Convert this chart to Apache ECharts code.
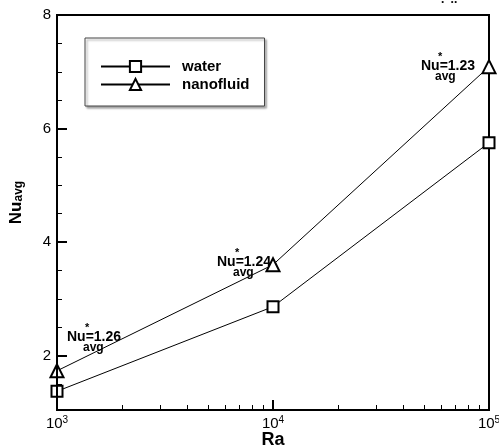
<!DOCTYPE html>
<html>
<head>
<meta charset="utf-8">
<script src="https://cdn.jsdelivr.net/npm/echarts@6/dist/echarts.min.js"></script>
<style>html,body{margin:0;padding:0;background:#fff}#c{width:499px;height:448px}</style>
</head>
<body>
<div id="c"></div>
<script>
var raValues = [1000, 10000, 100000];
var waterNu = [1.37, 2.86, 5.75];
var nanoNu = [1.73, 3.60, 7.09];
var yMajorTicks = [2, 4, 6, 8];
var yMinorTicks = [1.5, 2.5, 3, 3.5, 4.5, 5, 5.5, 6.5, 7, 7.5];
var xMinorTicks = [2000, 3000, 4000, 5000, 6000, 7000, 8000, 9000, 20000, 30000, 40000, 50000, 60000, 70000, 80000, 90000];
var ratioLabels = ['1.26', '1.24', '1.23'];

var F = '"Liberation Sans", Arial, sans-serif';
var chart = echarts.init(document.getElementById('c'), null, {renderer: 'canvas'});

function pairs(xs, ys) { return xs.map(function (x, i) { return [x, ys[i]]; }); }

var expo = {1000: '3', 10000: '4', 100000: '5'};

function annot(x, y, val, sx, ax) {
  return [
    {type: 'text', z: 100, left: x + sx, top: y - 16, style: {text: '*', font: 'bold 11px ' + F, fill: '#000'}},
    {type: 'text', z: 100, left: x, top: y - 8, style: {text: 'Nu=' + val, font: 'bold 14px ' + F, fill: '#000'}},
    {type: 'text', z: 100, left: x + ax, top: y + 4, style: {text: 'avg', font: 'bold 12px ' + F, fill: '#000'}}
  ];
}

var graphics = [].concat(
  annot(67, 338, ratioLabels[0], 18, 16),
  annot(217, 263, ratioLabels[1], 18, 16),
  annot(421, 67, ratioLabels[2], 17, 14),
  [
    {type: 'text', z: 100, left: 441, top: -6, style: {text: '.  ..', font: 'bold 12px "Noto Sans", sans-serif', fill: '#000'}},
    {type: 'text', z: 100, left: 456, top: -12, style: {text: 'ك', font: '16px "DejaVu Sans", sans-serif', fill: '#000'}}
  ]
);

var option = {
  animation: false,
  backgroundColor: '#fff',
  grid: {left: 57, right: 10, top: 15, bottom: 38, outerBoundsMode: 'none', containLabel: false,
    show: true, borderColor: '#000', borderWidth: 2, backgroundColor: 'transparent'},
  legend: {
    left: 85, top: 38, orient: 'vertical',
    itemWidth: 69, itemHeight: 14, itemGap: 3,
    padding: [21, 15, 14, 15],
    backgroundColor: '#fff', borderColor: '#444', borderWidth: 1,
    shadowColor: 'rgba(0,0,0,0.35)', shadowOffsetX: 2, shadowOffsetY: 2, shadowBlur: 2,
    textStyle: {fontFamily: F, fontSize: 15, fontWeight: 'bold', color: '#000', lineHeight: 15, padding: [0, 0, 0, 7]},
    data: ['water', 'nanofluid']
  },
  xAxis: [{
    type: 'log', logBase: 10, min: 1000, max: 100000,
    name: 'Ra', nameLocation: 'middle', nameGap: 21, nameMoveOverlap: false,
    nameTextStyle: {fontFamily: F, fontSize: 18, fontWeight: 'bold', color: '#000'},
    axisLine: {lineStyle: {color: '#000', width: 2}},
    axisTick: {show: true, inside: true, length: 10, lineStyle: {color: '#000', width: 2}},
    minorTick: {show: false},
    splitLine: {show: false},
    axisLabel: {
      margin: 5, color: '#000',
      formatter: function (v) { return '{b|10}{s|' + expo[Math.round(v)] + '}'; },
      rich: {
        b: {fontFamily: F, fontSize: 15, color: '#000'},
        s: {fontFamily: F, fontSize: 10, color: '#000', padding: [0, 0, 8, 0]}
      }
    },
    z: 10
  }, {
    type: 'log', logBase: 10, min: 1000, max: 100000, position: 'bottom',
    axisLine: {show: false},
    axisTick: {show: true, inside: true, length: 5, customValues: xMinorTicks, lineStyle: {color: '#000', width: 1}},
    axisLabel: {show: false},
    splitLine: {show: false},
    z: 10
  }],
  yAxis: [{
    type: 'value', min: 1.04, max: 8,
    name: '{a|Nu}{b|avg}', nameLocation: 'middle', nameGap: 32, nameRotate: 90, nameMoveOverlap: false,
    nameTextStyle: {
      padding: [0, 0, 0, 20],
      rich: {
        a: {fontFamily: F, fontSize: 17, fontWeight: 'bold', color: '#000'},
        b: {fontFamily: F, fontSize: 12, fontWeight: 'bold', color: '#000', padding: [6, 0, 0, 0]}
      }
    },
    axisLine: {lineStyle: {color: '#000', width: 2}},
    axisTick: {show: true, inside: true, length: 10, customValues: yMajorTicks, lineStyle: {color: '#000', width: 2}},
    axisLabel: {customValues: yMajorTicks, margin: 6, fontFamily: F, fontSize: 15, color: '#000'},
    splitLine: {show: false},
    z: 10
  }, {
    type: 'value', min: 1.04, max: 8, position: 'left',
    axisLine: {show: false},
    axisTick: {show: true, inside: true, length: 5, customValues: yMinorTicks, lineStyle: {color: '#000', width: 1}},
    axisLabel: {show: false},
    splitLine: {show: false},
    z: 10
  }],
  series: [{
    name: 'water', type: 'line', data: pairs(raValues, waterNu),
    symbol: 'emptyRect', symbolSize: 11,
    lineStyle: {color: '#000', width: 1}, itemStyle: {color: '#000', borderColor: '#000', borderWidth: 1}
  }, {
    name: 'nanofluid', type: 'line', data: pairs(raValues, nanoNu),
    symbol: 'emptyTriangle', symbolSize: 13,
    lineStyle: {color: '#000', width: 1}, itemStyle: {color: '#000', borderColor: '#000', borderWidth: 1}
  }],
  graphic: graphics
};
chart.setOption(option);
</script>
</body>
</html>
